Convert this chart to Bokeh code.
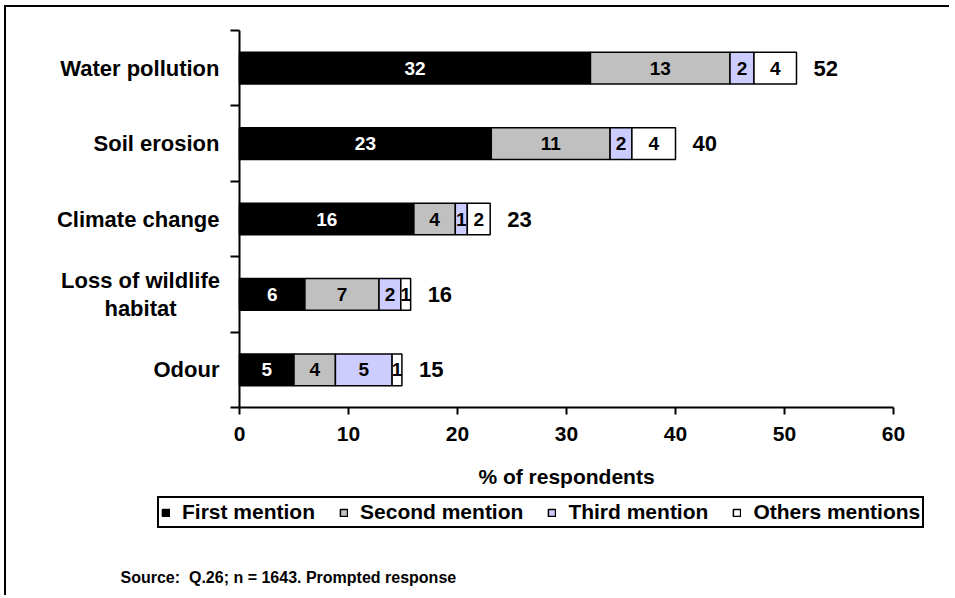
from bokeh.plotting import figure
from bokeh.models import (ColumnDataSource, Range1d, FixedTicker, Legend, LegendItem,
                          LinearAxis, Label)
from bokeh.core.properties import value
from bokeh.embed import file_html
from bokeh.resources import INLINE

# ---------------- data ----------------
categories = ["Water pollution", "Soil erosion", "Climate change",
              "Loss of wildlife\nhabitat", "Odour"]
first_mention = [32.2, 23.1, 16.0, 6.0, 5.0]
second_mention = [12.8, 10.9, 3.8, 6.8, 3.8]
third_mention = [2.2, 2.0, 1.1, 2.0, 5.2]
others_mentions = [3.9, 4.0, 2.1, 0.9, 0.9]
totals = [52, 40, 23, 16, 15]
x_ticks = [0, 10, 20, 30, 40, 50, 60]
series_names = ["First mention", "Second mention", "Third mention", "Others mentions"]
series_colors = ["#000000", "#C0C0C0", "#CCCCFF", "#FFFFFF"]
source_note = "Source:\u00a0 Q.26; n = 1643. Prompted response"
x_title = "% of respondents"

FONT = "Liberation Sans"

# ---------------- layout (page pixels) ----------------
W, H = 945, 590
CX0, CY0 = 6, 7                 # canvas origin on the page
AX_L, AX_R = 239, 893           # x = 0 and x = 60
AX_B, AX_T = 407, 30            # bottom and top of the category band
X_MAX = 60

n = len(categories)
ys = [n - i - 0.5 for i in range(n)]
series = [first_mention, second_mention, third_mention, others_mentions]
keys = ["first", "second", "third", "others"]

kx = (AX_R - AX_L) / X_MAX
ky = (AX_B - AX_T) / n
x_range = Range1d((CX0 - AX_L) / kx, (CX0 + W - AX_L) / kx)
y_range = Range1d((AX_B - (CY0 + H)) / ky, (AX_B - CY0) / ky)

src = ColumnDataSource(dict(y=ys, first=first_mention, second=second_mention,
                            third=third_mention, others=others_mentions))

p = figure(width=W, height=H, output_backend="svg", toolbar_location=None,
           x_range=x_range, y_range=y_range,
           x_axis_type=None, y_axis_type=None,
           min_border_left=0, min_border_right=0,
           min_border_top=0, min_border_bottom=0)
p.outline_line_color = None
p.background_fill_color = "white"
p.border_fill_color = "white"
p.xgrid.visible = False
p.ygrid.visible = False
p.styles = {"margin-left": "4px", "margin-top": "5px",
            "border-left": "2px solid black", "border-top": "2px solid black"}

# stacked bars
renderers = p.hbar_stack(keys, y="y", height=0.42, color=series_colors,
                         line_color="black", line_width=1.5, source=src)

# segment labels
lx, ly, lt, lc = [], [], [], []
for i in range(n):
    left = 0.0
    for j, s in enumerate(series):
        v = s[i]
        lx.append(left + v / 2.0)
        ly.append(ys[i])
        lt.append(str(int(round(v))))
        lc.append("white" if j == 0 else "black")
        left += v
p.text(x=lx, y=ly, text=lt, text_color=lc, text_align="center",
       text_baseline="middle", text_font=value(FONT), text_font_style="bold",
       text_font_size=value("19px"))

# totals
ends = [sum(s[i] for s in series) for i in range(n)]
p.text(x=ends, y=ys, text=[str(t) for t in totals], x_offset=17,
       text_align="left", text_baseline="middle", text_font=value(FONT),
       text_font_style="bold", text_font_size=value("22px"), text_color="black")

# category names (multi-line one centred, like the original)
cat_align = ["center" if "\n" in c else "right" for c in categories]
cat_off = [-99 if "\n" in c else -20 for c in categories]
p.text(x=[0] * n, y=ys, text=categories, x_offset=cat_off, text_align=cat_align,
       text_baseline="middle", text_font=value(FONT), text_font_style="bold",
       text_font_size=value("22px"), text_color="black", text_line_height=1.15)

# x axis
xaxis = LinearAxis(ticker=FixedTicker(ticks=x_ticks), axis_label=x_title,
                   fixed_location=0, bounds=(0, X_MAX))
xaxis.axis_line_width = 2
xaxis.major_tick_line_width = 2
xaxis.major_tick_out = 7
xaxis.major_tick_in = 0
xaxis.minor_tick_line_color = None
xaxis.major_label_standoff = 12
xaxis.major_label_text_color = "black"
xaxis.major_label_text_font = FONT
xaxis.major_label_text_font_style = "bold"
xaxis.major_label_text_font_size = "21px"
xaxis.axis_label_text_color = "black"
xaxis.axis_label_text_font = FONT
xaxis.axis_label_text_font_style = "bold"
xaxis.axis_label_text_font_size = "21px"
xaxis.axis_label_standoff = 21
p.add_layout(xaxis, "below")

# y axis: ticks at category boundaries
yaxis = LinearAxis(ticker=FixedTicker(ticks=list(range(n + 1))),
                   fixed_location=0, bounds=(0, n))
yaxis.major_label_overrides = {k: "" for k in range(n + 1)}
yaxis.axis_line_width = 2
yaxis.major_tick_line_width = 2
yaxis.major_tick_out = 9
yaxis.major_tick_in = 0
yaxis.minor_tick_line_color = None
p.add_layout(yaxis, "left")

# legend (position in screen px from the frame's bottom-left corner)
legend = Legend(items=[LegendItem(label=nm, renderers=[r]) for nm, r in zip(series_names, renderers)],
                orientation="horizontal", location=(157 - CX0, CY0 + H - 528))
legend.glyph_width = 9
legend.glyph_height = 9
legend.label_standoff = 12
legend.spacing = 24
legend.padding = 2
legend.margin = 0
legend.label_text_font = FONT
legend.label_text_font_style = "bold"
legend.label_text_font_size = "21px"
legend.label_text_color = "black"
legend.border_line_color = "black"
legend.border_line_alpha = 1
legend.border_line_width = 2
legend.background_fill_color = "white"
legend.background_fill_alpha = 1
p.add_layout(legend, "center")

# source note
note = Label(x=120 - CX0, y=CY0 + H - 577, x_units="screen", y_units="screen",
             text=source_note, text_align="left", text_baseline="middle")
note.text_font = FONT
note.text_font_style = "bold"
note.text_font_size = "16px"
note.text_color = "black"
p.add_layout(note)

open("out.html", "w").write(file_html(p, INLINE))
